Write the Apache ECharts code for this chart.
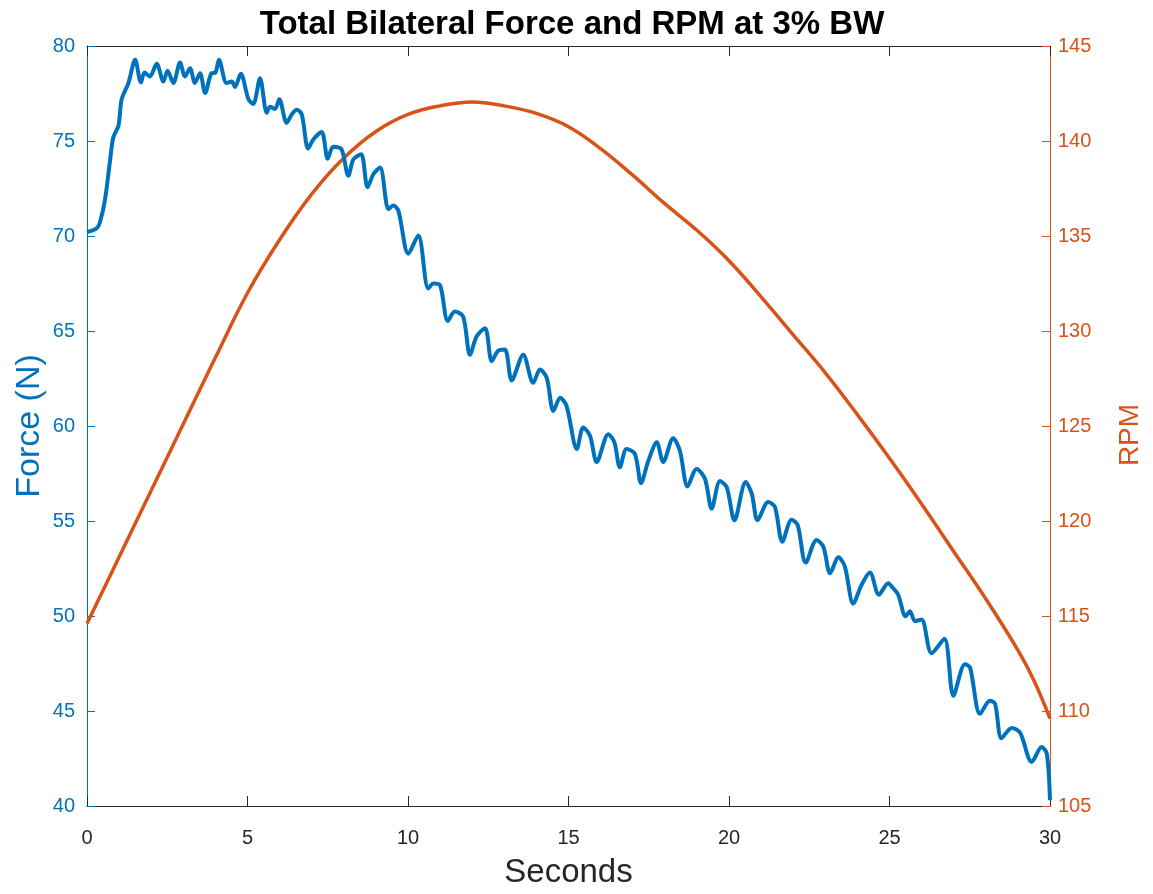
<!DOCTYPE html>
<html>
<head>
<meta charset="utf-8">
<script src="https://cdn.jsdelivr.net/npm/echarts@6/dist/echarts.min.js"></script>
<style>html,body{margin:0;padding:0;background:#fff}#c{width:1153px;height:894px}</style>
</head>
<body>
<div id="c"></div>
<script>
const titleText = 'Total Bilateral Force and RPM at 3% BW';
const xTicks = [0, 5, 10, 15, 20, 25, 30];
const forceTicks = [40, 45, 50, 55, 60, 65, 70, 75, 80];
const rpmTicks = [105, 110, 115, 120, 125, 130, 135, 140, 145];

const forceT = [0,0.3,0.4,0.56,0.72,0.82,0.98,1.08,1.29,1.5,1.68,1.79,1.96,2.17,2.38,2.51,2.69,2.9,3.05,3.21,3.36,3.52,3.68,3.88,4.0,4.11,4.35,4.51,4.61,4.79,5.03,5.18,5.39,5.6,5.7,5.86,5.99,6.22,6.38,6.53,6.69,6.89,7.05,7.31,7.5,7.67,7.93,8.14,8.3,8.54,8.74,8.92,9.13,9.39,9.54,9.7,10.01,10.32,10.63,10.79,11.0,11.24,11.46,11.72,11.93,12.14,12.4,12.61,12.81,13.02,13.23,13.59,13.9,14.11,14.32,14.53,14.74,14.94,15.26,15.46,15.67,15.88,16.24,16.43,16.6,16.81,17.07,17.26,17.49,17.75,17.95,18.26,18.47,18.71,18.99,19.25,19.46,19.72,19.93,20.17,20.52,20.71,20.89,21.22,21.43,21.66,21.95,22.14,22.39,22.73,22.94,23.15,23.41,23.61,23.87,24.13,24.39,24.67,24.96,25.07,25.27,25.5,25.64,25.79,26.0,26.31,26.71,26.99,27.35,27.51,27.82,28.13,28.29,28.49,28.81,29.07,29.43,29.74,29.9,30.0];
const forceV = [70.2,70.4,70.7,71.9,74.0,75.2,75.8,77.2,78.05,79.27,78.08,78.6,78.4,79.06,78.13,78.7,78.05,79.13,78.4,78.83,78.05,78.57,77.53,78.57,78.6,79.27,78.05,78.13,77.84,78.54,77.2,76.95,78.3,76.48,76.8,76.69,77.2,75.96,76.4,76.65,76.4,74.6,75.08,75.47,74.07,74.7,74.56,73.17,74.04,74.3,72.56,73.25,73.6,71.42,71.6,71.34,69.07,70.03,67.24,67.5,67.41,65.53,66.02,65.76,63.75,64.72,65.15,63.41,63.96,64.02,62.4,63.75,62.27,62.97,62.54,60.79,61.49,61.05,58.79,59.92,59.49,58.1,59.57,59.14,57.83,58.79,58.53,57.0,58.18,59.14,58.1,59.36,58.7,56.82,57.74,57.22,55.65,57.1,56.78,55.04,57.05,56.43,55.04,56.0,55.74,53.91,55.07,54.78,52.81,54.0,53.65,52.25,53.09,52.6,50.65,51.64,52.29,51.12,51.73,51.55,51.12,49.99,50.25,49.73,49.81,48.04,48.8,45.8,47.46,47.28,44.85,45.54,45.37,43.57,44.1,43.85,42.32,43.1,42.76,40.3];

const rpmT = [0,1,2,3,4,5,6,7,8,9,10,11,12,13,14,15,16,17,18,19,20,21,22,23,24,25,26,27,28,29,29.5,30];
const rpmV = [114.6,118.1,121.6,125.1,128.6,132.0,134.8,137.2,139.1,140.5,141.4,141.85,142.05,141.85,141.45,140.75,139.6,138.2,136.7,135.3,133.7,131.8,129.8,127.8,125.6,123.3,120.9,118.4,115.9,113.2,111.6,109.6];

const forceData = forceT.map((t, i) => [t, forceV[i]]);
const rpmData = rpmT.map((t, i) => [t, rpmV[i]]);

const BLUE = '#0072BD', ORANGE = '#D95319', DARK = '#262626';
const FONT = '"Liberation Sans", Arial, Helvetica, sans-serif';

const chart = echarts.init(document.getElementById('c'), null, {renderer: 'canvas'});
chart.setOption({
  backgroundColor: '#ffffff',
  animation: false,
  textStyle: {fontFamily: FONT},
  title: {
    text: titleText, left: 567, top: 3, textAlign: 'center',
    textStyle: {fontSize: 33, fontWeight: 'bold', color: '#000', fontFamily: FONT}
  },
  grid: {left: 87, right: 103, top: 46, bottom: 83, containLabel: false},
  xAxis: [{
    type: 'value', min: 0, max: 30, interval: 5, position: 'bottom',
    axisLine: {show: true, onZero: false, lineStyle: {color: DARK, width: 1}},
    axisTick: {show: true, inside: true, length: 10, lineStyle: {color: DARK}},
    axisLabel: {show: true, fontSize: 20, color: DARK, margin: 22, fontFamily: FONT},
    splitLine: {show: false},
    name: 'Seconds', nameLocation: 'middle', nameGap: 50,
    nameTextStyle: {fontSize: 33, color: DARK, fontFamily: FONT}
  }, {
    type: 'value', min: 0, max: 30, interval: 5, position: 'top',
    axisLine: {show: true, onZero: false, lineStyle: {color: DARK, width: 1}},
    axisTick: {show: true, inside: true, length: 10, lineStyle: {color: DARK}},
    axisLabel: {show: false}, splitLine: {show: false}
  }],
  yAxis: [{
    type: 'value', min: 40, max: 80, interval: 5, position: 'left',
    axisLine: {show: true, onZero: false, lineStyle: {color: BLUE, width: 1}},
    axisTick: {show: true, inside: true, length: 8, lineStyle: {color: BLUE}},
    axisLabel: {fontSize: 20, color: BLUE, margin: 12, fontFamily: FONT},
    splitLine: {show: false},
    name: 'Force (N)', nameLocation: 'middle', nameGap: 40, nameRotate: 90,
    nameMoveOverlap: false,
    nameTextStyle: {fontSize: 34, color: BLUE, fontFamily: FONT}
  }, {
    type: 'value', min: 105, max: 145, interval: 5, position: 'right',
    axisLine: {show: true, onZero: false, lineStyle: {color: ORANGE, width: 1}},
    axisTick: {show: true, inside: true, length: 8, lineStyle: {color: ORANGE}},
    axisLabel: {fontSize: 20, color: ORANGE, margin: 8, fontFamily: FONT},
    splitLine: {show: false},
    name: 'RPM', nameLocation: 'middle', nameGap: 66, nameRotate: 90,
    nameTextStyle: {fontSize: 28, color: ORANGE, fontFamily: FONT, padding: [0, 18, 0, 0]}
  }],
  series: [{
    name: 'Force', type: 'line', xAxisIndex: 0, yAxisIndex: 0,
    data: forceData, showSymbol: false, smooth: 0.3,
    lineStyle: {color: BLUE, width: 4}, z: 3
  }, {
    name: 'RPM', type: 'line', xAxisIndex: 0, yAxisIndex: 1,
    data: rpmData, showSymbol: false, smooth: 0.4,
    lineStyle: {color: ORANGE, width: 3.5}, z: 2
  }]
});
</script>
</body>
</html>
